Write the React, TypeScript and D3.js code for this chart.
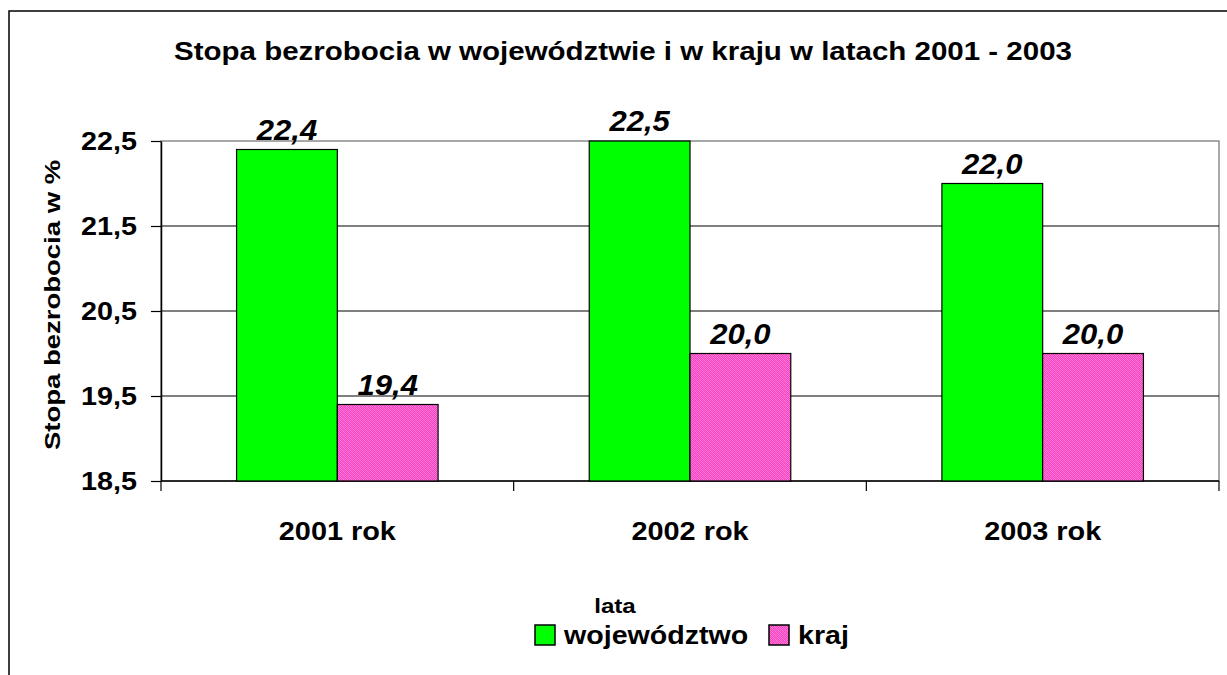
import React, { useRef, useEffect } from 'react';
import * as d3 from 'd3';

const categories = ['2001 rok', '2002 rok', '2003 rok'];
const seriesNames = ['województwo', 'kraj'];
const wojewodztwo = [22.4, 22.5, 22.0];
const kraj = [19.4, 20.0, 20.0];
const yTicks = [18.5, 19.5, 20.5, 21.5, 22.5];

const fmt = (v: number) => v.toFixed(1).replace('.', ',');
const font = 'Arial, "Liberation Sans", sans-serif';

// text drawn slightly wider than the font, like the stretched original
function label(g: any, x: number, y: number, txt: string, size: number, sx: number, anchor = 'middle', italic = false, rot = 0) {
    return g.append('text')
        .attr('transform', 'translate(' + x + ',' + y + ')' + (rot ? ' rotate(' + rot + ')' : '') + ' scale(' + sx + ',1)')
        .attr('text-anchor', anchor)
        .attr('font-family', font).attr('font-weight', 'bold')
        .attr('font-style', italic ? 'italic' : 'normal')
        .attr('font-size', size)
        .attr('fill', '#000')
        .text(txt);
}

function App() {
    const ref = useRef<SVGSVGElement>(null);

    useEffect(() => {
        const svg = d3.select(ref.current);
        svg.selectAll('*').remove();

        const left = 161, right = 1219, top = 141, bottom = 481;

        // fine checker pattern for "kraj"
        const defs = svg.append('defs');
        const pat = defs.append('pattern')
            .attr('id', 'krajPat')
            .attr('width', 4).attr('height', 4)
            .attr('patternUnits', 'userSpaceOnUse');
        pat.append('rect').attr('width', 4).attr('height', 4).attr('fill', '#f545d0');
        for (let py = 0; py < 4; py++) {
            for (let px = 0; px < 4; px++) {
                if ((px + py) % 2 === 0) {
                    pat.append('rect').attr('x', px).attr('y', py).attr('width', 1).attr('height', 1)
                        .attr('fill', (px - py + 4) % 4 === 0 ? '#ff80c0' : '#ff68d0');
                }
            }
        }

        // outer chart frame (extends past the window)
        svg.append('rect')
            .attr('x', 9).attr('y', 11)
            .attr('width', 1300).attr('height', 800)
            .attr('fill', 'none').attr('stroke', '#000').attr('stroke-width', 1.5);

        const x0 = d3.scaleBand().domain(categories).range([left, right]).paddingInner(0).paddingOuter(0);
        const barW = x0.bandwidth() / 3.5;
        const y = d3.scaleLinear().domain([18.5, 22.5]).range([bottom, top]);

        // plot area border (gray top/right)
        svg.append('rect')
            .attr('x', left).attr('y', top)
            .attr('width', right - left).attr('height', bottom - top)
            .attr('fill', 'none').attr('stroke', '#8c8c8c').attr('stroke-width', 1.5);

        // gridlines
        svg.append('g').selectAll('line')
            .data(yTicks.slice(1, -1))
            .enter().append('line')
            .attr('x1', left).attr('x2', right)
            .attr('y1', d => y(d)).attr('y2', d => y(d))
            .attr('stroke', '#000').attr('stroke-width', 1.2);

        // y axis
        const yAxis = svg.append('g')
            .attr('transform', 'translate(' + left + ',0)')
            .call(d3.axisLeft(y).tickValues(yTicks).tickSize(10).tickSizeOuter(0).tickFormat(() => ''));
        yAxis.select('.domain').attr('stroke', '#000').attr('stroke-width', 1.5);
        yAxis.selectAll('line').attr('stroke', '#000').attr('stroke-width', 1.2);
        const yLab = svg.append('g');
        yTicks.forEach(t => label(yLab, 137, y(t) + 9, fmt(t), 25, 1.15, 'end'));

        // x axis
        svg.append('line')
            .attr('x1', left).attr('x2', right).attr('y1', bottom).attr('y2', bottom)
            .attr('stroke', '#000').attr('stroke-width', 1.5);
        const xTickPos = categories.map(c => x0(c) as number).concat([right]);
        svg.append('g').selectAll('line')
            .data(xTickPos)
            .enter().append('line')
            .attr('x1', d => d).attr('x2', d => d)
            .attr('y1', bottom).attr('y2', bottom + 10)
            .attr('stroke', '#000').attr('stroke-width', 1.2);
        const xLab = svg.append('g');
        categories.forEach(c => label(xLab, (x0(c) as number) + x0.bandwidth() / 2, 540, c, 26, 1.11));

        // bars
        const series = [
            { name: seriesNames[0], values: wojewodztwo, fill: '#00ff00', offset: 0 },
            { name: seriesNames[1], values: kraj, fill: 'url(#krajPat)', offset: 1 }
        ];
        series.forEach(s => {
            const g = svg.append('g');
            g.selectAll('rect')
                .data(s.values)
                .enter().append('rect')
                .attr('x', (d, i) => (x0(categories[i]) as number) + barW * 0.75 + s.offset * barW)
                .attr('y', d => y(d))
                .attr('width', barW)
                .attr('height', d => bottom - y(d))
                .attr('fill', s.fill)
                .attr('stroke', '#000').attr('stroke-width', 1.2);
            s.values.forEach((v, i) => {
                label(g, (x0(categories[i]) as number) + barW * 1.25 + s.offset * barW, y(v) - 10, fmt(v), 29, 1.07, 'middle', true);
            });
        });

        // title
        label(svg, 623, 60, 'Stopa bezrobocia w województwie i w kraju w latach 2001 - 2003', 25, 1.18);

        // y axis title
        label(svg, 60, (top + bottom) / 2 - 6, 'Stopa bezrobocia w %', 22, 1.25, 'middle', false, -90);

        // x axis title
        label(svg, 615, 613, 'lata', 21, 1.15);

        // legend
        const legend = svg.append('g');
        const items = [
            { name: seriesNames[0], fill: '#00ff00', x: 535 },
            { name: seriesNames[1], fill: 'url(#krajPat)', x: 769 }
        ];
        items.forEach(it => {
            legend.append('rect')
                .attr('x', it.x).attr('y', 625).attr('width', 20).attr('height', 20)
                .attr('fill', it.fill).attr('stroke', '#000').attr('stroke-width', 1.5);
            label(legend, it.x + 29, 644, it.name, 26, 1.1, 'start');
        });
    }, []);

    return (
        <svg ref={ref} width={1227} height={675}
            style={{ position: 'absolute', left: 0, top: 0, background: '#fff' }} />
    );
}

export default App;
